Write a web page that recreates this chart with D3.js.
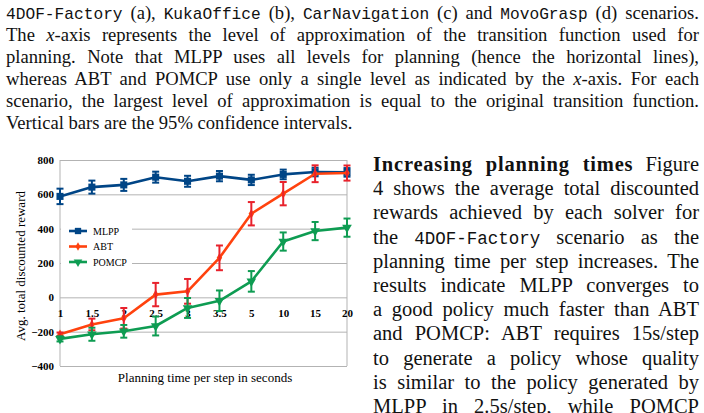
<!DOCTYPE html>
<html lang="en">
  <head>
    <meta charset="UTF-8">
    <script src="https://cdn.jsdelivr.net/npm/d3@7"></script>
    <style>
      html, body { margin: 0; padding: 0; background: #fff; }
      svg { display: block; }
    </style>
    <title>Planning time vs reward</title>
  </head>
  <body>
    <script>
      // Chart data
      const planTimes = ['1', '1.5', '2', '2.5', '3', '3.5', '5', '10', '15', '20'];
      const yTicks = [-400, -200, 0, 200, 400, 600, 800];

      const mlppMean = [588, 642, 655, 700, 676, 706, 684, 716, 730, 728];
      const mlppCI   = [45, 38, 35, 32, 32, 30, 30, 28, 25, 25];
      const abtMean  = [-215, -158, -122, 16, 35, 230, 487, 604, 720, 724];
      const abtCI    = [10, 34, 60, 68, 72, 72, 68, 68, 49, 44];
      const pomcpMean = [-242, -215, -198, -167, -62, -20, 93, 325, 386, 406];
      const pomcpCI   = [15, 38, 37, 55, 58, 60, 60, 53, 53, 53];

      // Surrounding paper text, one entry per printed line
      const captionLines = [
        [['tt', '4DOF-Factory'], ['rm', ' (a), '], ['tt', 'KukaOffice'], ['rm', ' (b), '], ['tt', 'CarNavigation'],
         ['rm', ' (c) and '], ['tt', 'MovoGrasp'], ['rm', ' (d) scenarios.']],
        [['rm', 'The '], ['it', 'x'], ['rm', '-axis represents the level of approximation of the transition function used for']],
        [['rm', 'planning. Note that MLPP uses all levels for planning (hence the horizontal lines),']],
        [['rm', 'whereas ABT and POMCP use only a single level as indicated by the '], ['it', 'x'], ['rm', '-axis. For each']],
        [['rm', 'scenario, the largest level of approximation is equal to the original transition function.']],
        [['rm', 'Vertical bars are the 95% confidence intervals.']]
      ];
      const bodyLines = [
        [['bf', 'Increasing planning times'], ['rm', ' Figure']],
        [['rm', '4 shows the average total discounted']],
        [['rm', 'rewards achieved by each solver for']],
        [['rm', 'the '], ['tt', '4DOF-Factory'], ['rm', ' scenario as the']],
        [['rm', 'planning time per step increases. The']],
        [['rm', 'results indicate MLPP converges to']],
        [['rm', 'a good policy much faster than ABT']],
        [['rm', 'and POMCP: ABT requires 15s/step']],
        [['rm', 'to generate a policy whose quality']],
        [['rm', 'is similar to the policy generated by']],
        [['rm', 'MLPP in 2.5s/step, while POMCP']]
      ];

      let w = 704;
      let h = 413;

      let svg = d3.select('body')
                  .append('svg')
                  .attr('width', w)
                  .attr('height', h);

      // Justified lines: stretch word spacing to fill the column
      function paragraph(lines, x0, x1, y0, dy, size, ttSize, raggedLast) {
        lines.forEach((segs, i) => {
          let t = svg.append('text')
                     .attr('x', x0)
                     .attr('y', y0 + i * dy)
                     .attr('font-family', 'Liberation Serif')
                     .attr('font-size', size)
                     .attr('fill', '#111')
                     .style('white-space', 'pre');
          segs.forEach(([k, s]) => {
            let ts = t.append('tspan').text(s);
            if (k === 'tt') ts.attr('font-family', 'Liberation Mono').attr('font-size', ttSize);
            if (k === 'it') ts.attr('font-style', 'italic');
            if (k === 'bf') ts.attr('font-weight', 'bold').attr('letter-spacing', 0.8);
          });
          if (raggedLast && i === lines.length - 1) return;
          let natural = t.node().getComputedTextLength();
          let spaces = segs.map(d => d[1]).join('').split(' ').length - 1;
          if (spaces > 0) t.attr('word-spacing', (x1 - x0 - natural) / spaces);
        });
      }

      paragraph(captionLines, 6, 699, 19, 22, 18.6, 16.2, true);
      paragraph(bodyLines, 373, 699, 171, 24.2, 20.5, 17.5, false);

      // Chart
      let x = d3.scalePoint()
                .domain(planTimes)
                .range([60, 347]);

      let y = d3.scaleLinear()
                .domain([-400, 800])
                .range([366, 160]);

      let chart = svg.append('g');

      // Horizontal grid + y labels
      let yAxis = chart.append('g')
                       .attr('transform', 'translate(60,0)')
                       .call(d3.axisLeft(y).tickValues(yTicks).tickSize(-287).tickPadding(6));
      yAxis.select('.domain').remove();
      yAxis.selectAll('line').attr('stroke', '#b3b3b3').attr('stroke-width', 1);
      yAxis.selectAll('text')
           .attr('font-family', 'Liberation Serif')
           .attr('font-weight', 'bold')
           .attr('font-size', 11)
           .attr('fill', '#000');

      // Left and right frame lines
      chart.selectAll('.vframe')
           .data([planTimes[0], planTimes[planTimes.length - 1]])
           .enter()
           .append('line')
           .attr('x1', d => x(d))
           .attr('x2', d => x(d))
           .attr('y1', y(800))
           .attr('y2', y(-400))
           .attr('stroke', '#b3b3b3');

      // Legend backdrop hides the grid behind it
      chart.append('rect')
           .attr('x', 61)
           .attr('y', 221)
           .attr('width', 71)
           .attr('height', 50)
           .attr('fill', '#fff');

      // x labels sit just under the zero line
      let xAxis = chart.append('g')
                       .attr('transform', 'translate(0,' + y(0) + ')')
                       .call(d3.axisBottom(x).tickSize(0).tickPadding(12));
      xAxis.select('.domain').remove();
      xAxis.selectAll('text')
           .attr('font-family', 'Liberation Serif')
           .attr('font-weight', 'bold')
           .attr('font-size', 11)
           .attr('fill', '#000');

      // Axis titles
      chart.append('text')
           .attr('transform', 'translate(25,266) rotate(-90)')
           .attr('text-anchor', 'middle')
           .attr('font-family', 'Liberation Serif')
           .attr('font-size', 13)
           .text('Avg. total discounted reward');

      chart.append('text')
           .attr('x', 205)
           .attr('y', 382)
           .attr('text-anchor', 'middle')
           .attr('font-family', 'Liberation Serif')
           .attr('font-size', 13)
           .text('Planning time per step in seconds');

      const series = [
        { name: 'MLPP', mean: mlppMean, ci: mlppCI, color: '#004586', bar: '#004586', shape: d3.symbolSquare, size: 50, rot: 0 },
        { name: 'ABT', mean: abtMean, ci: abtCI, color: '#ff420e', bar: '#e8222c', shape: d3.symbolDiamond, size: 26, rot: 0 },
        { name: 'POMCP', mean: pomcpMean, ci: pomcpCI, color: '#0e9c52', bar: '#0e9c52', shape: d3.symbolTriangle, size: 40, rot: 180 }
      ];

      let line = d3.line()
                   .x(d => x(d.t))
                   .y(d => y(d.v));

      series.forEach(s => {
        let pts = planTimes.map((t, i) => ({ t: t, v: s.mean[i], e: s.ci[i] }));
        let g = chart.append('g');

        g.append('path')
         .datum(pts)
         .attr('d', line)
         .attr('fill', 'none')
         .attr('stroke', s.color)
         .attr('stroke-width', 2.6)
         .attr('stroke-linejoin', 'round');

        g.selectAll('path.mark')
         .data(pts)
         .enter()
         .append('path')
         .attr('class', 'mark')
         .attr('d', d3.symbol().type(s.shape).size(s.size))
         .attr('transform', d => 'translate(' + x(d.t) + ',' + y(d.v) + ') rotate(' + s.rot + ')')
         .attr('fill', s.color);

        // 95% confidence bars
        let eb = g.selectAll('g.err')
                  .data(pts)
                  .enter()
                  .append('g')
                  .attr('stroke', s.bar)
                  .attr('stroke-width', 2);
        eb.append('line')
          .attr('x1', d => x(d.t)).attr('x2', d => x(d.t))
          .attr('y1', d => y(d.v + d.e)).attr('y2', d => y(d.v - d.e));
        eb.append('line')
          .attr('x1', d => x(d.t) - 3.5).attr('x2', d => x(d.t) + 3.5)
          .attr('y1', d => y(d.v + d.e)).attr('y2', d => y(d.v + d.e));
        eb.append('line')
          .attr('x1', d => x(d.t) - 3.5).attr('x2', d => x(d.t) + 3.5)
          .attr('y1', d => y(d.v - d.e)).attr('y2', d => y(d.v - d.e));
      });

      // Legend
      let legend = chart.selectAll('g.legend')
                        .data(series)
                        .enter()
                        .append('g')
                        .attr('transform', (d, i) => 'translate(69,' + (231 + i * 15.5) + ')');
      legend.append('line')
            .attr('x1', 0).attr('x2', 18)
            .attr('stroke', d => d.color)
            .attr('stroke-width', 2.6);
      legend.append('path')
            .attr('d', d => d3.symbol().type(d.shape).size(d.size * 0.8)())
            .attr('transform', d => 'translate(9,0) rotate(' + d.rot + ')')
            .attr('fill', d => d.color);
      legend.append('text')
            .attr('x', 24)
            .attr('y', 3.5)
            .attr('font-family', 'Liberation Serif')
            .attr('font-size', 10)
            .text(d => d.name);
    </script>
  </body>
</html>
